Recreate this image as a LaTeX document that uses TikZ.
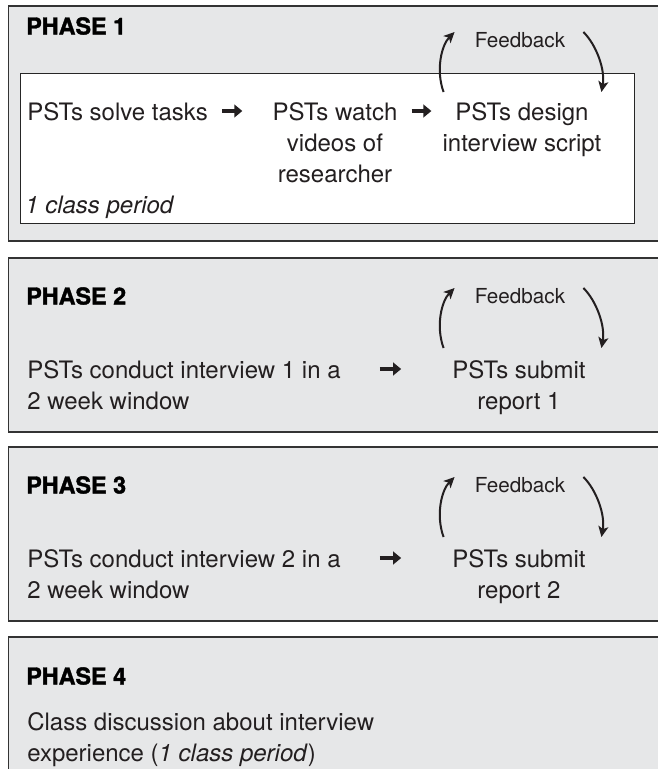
\documentclass[tikz,border=0pt]{standalone}
\usepackage{fontspec}
\setmainfont{TeX Gyre Heros}
\newfontfamily\phasefont{TeX Gyre Heros}[BoldFeatures={FakeBold=1.5}]
\usetikzlibrary{arrows.meta,positioning}
\definecolor{panelgray}{HTML}{E6E7E8}
\definecolor{inkblack}{HTML}{231F20}

\begin{document}
\begin{tikzpicture}[x=0.75pt, y=-0.75pt,
        panel/.style={draw=black!80, line width=0.9pt, fill=panelgray},
        whitebox/.style={draw=black!85, line width=0.7pt, fill=white},
        title/.style={inner sep=0pt, anchor=west, text=black, font=\fontsize{17.5}{20}\phasefont\bfseries},
        txt/.style={inner sep=0pt, text=inkblack, font=\fontsize{18}{23.3}\selectfont},
        fbtext/.style={inner sep=0pt, text=inkblack, font=\fontsize{15.5}{18}\selectfont},
        flow/.style={line width=2.6pt, draw=inkblack, -{Triangle[length=6pt, width=9.5pt]}},
        fbloop/.style={line width=1.5pt, draw=inkblack, -{Stealth[length=8pt, width=7.5pt, inset=2pt]}}]
        \useasboundingbox (0,0) rectangle (658,769);
        \clip (0,0) rectangle (658,769);

        \draw[panel] (8.5,6) rectangle (700,241);
        \draw[whitebox] (20,73) rectangle (634,223);
        \node[title] (title1) at (26,26) {PHASE 1};
        \node[fbtext] (fb1) at (520,40) {Feedback};
        \node[txt, anchor=north west] (solve) at (27,102) {PSTs solve tasks};
        \node[txt, anchor=north, align=center] (watch) at (335,102) {PSTs watch\\videos of\\researcher};
        \node[txt, anchor=north, align=center] (design) at (522,102) {PSTs design\\interview script};
        \node[txt, anchor=base west, font=\fontsize{18}{23.3}\selectfont\itshape] (period) at (25,213) {1 class period};
        \draw[flow] ([shift={(14,9)}]solve.north east) -- ([shift={(-30,9)}]watch.north west);
        \draw[flow] ([shift={(14,9)}]watch.north east) -- ([shift={(-11,9)}]design.north west);

        \foreach \n/\t/\k in {2/258/1, 3/447/2} {
          \draw[panel] (8.5,\t) rectangle (700,\t+174);
          \node[title] (title\n) at (26,\t+38) {PHASE \n};
          \node[fbtext] (fb\n) at (520,\t+38) {Feedback};
          \node[txt, anchor=north west, align=left] (conduct\n) at (27,\t+102) {PSTs conduct interview \k\ in a\\2 week window};
          \node[txt, anchor=north, align=center] (submit\n) at (519,\t+102) {PSTs submit\\report \k};
          \draw[flow] ([shift={(39,9)}]conduct\n.north east) -- ([shift={(-51,9)}]submit\n.north west);
        }

        \foreach \f in {fb1,fb2,fb3} {
          \draw[fbloop] ([shift={(-31,52)}]\f.west) .. controls +(-8,-22) and +(-13,13) .. ([shift={(-20,-8)}]\f.west);
          \draw[fbloop] ([shift={(18,-8)}]\f.east) .. controls +(13,13) and +(4,-22) .. ([shift={(36,52)}]\f.east);
        }

        \draw[panel] (8.5,637) rectangle (700,800);
        \node[title] (title4) at (26,676) {PHASE 4};
        \node[txt, anchor=north west, align=left] (discuss) at (27,712) {Class discussion about interview\\experience (\textit{1 class period})};
\end{tikzpicture}
\end{document}
